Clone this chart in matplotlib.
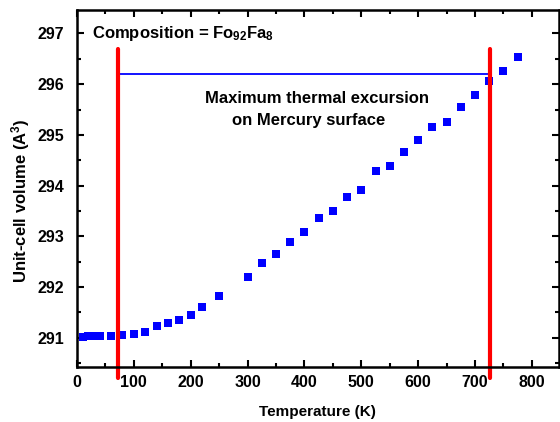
import numpy as np
import matplotlib
matplotlib.use('Agg')
import matplotlib.pyplot as plt
from matplotlib.ticker import MultipleLocator

plt.rcParams['font.family'] = ['Liberation Sans', 'DejaVu Sans']
plt.rcParams['font.weight'] = 'bold'
plt.rcParams['mathtext.fontset'] = 'custom'
plt.rcParams['mathtext.rm'] = 'Liberation Sans:bold'
plt.rcParams['mathtext.default'] = 'rm'

# temperature (K) and unit-cell volume (A^3)
temp = [10, 20, 30, 40, 60, 80, 100, 120, 140, 160, 180, 200, 220, 250,
        300, 325, 350, 375, 400, 425, 450, 475, 500, 525, 550, 575, 600,
        625, 650, 675, 700, 725, 750, 775]
vol = [291.01, 291.03, 291.04, 291.03, 291.03, 291.05, 291.07, 291.12,
       291.23, 291.30, 291.36, 291.45, 291.61, 291.82, 292.19, 292.48,
       292.65, 292.89, 293.08, 293.36, 293.50, 293.78, 293.92, 294.28,
       294.39, 294.66, 294.89, 295.16, 295.25, 295.56, 295.79, 296.06,
       296.26, 296.53]

# surface temperature limits and max volume
t_min, t_max = 72, 727
v_top = 296.21

fig = plt.figure(figsize=(5.6, 4.22), dpi=100)
ax = fig.add_axes([0.1375, 0.131, 0.86, 0.845])

ax.plot(temp, vol, 's', color='#0000ff', markersize=5.8, markeredgewidth=0)
ax.plot([t_min, t_max], [v_top, v_top], color='#0000ff', lw=1.3)
for t in (t_min, t_max):
    ax.plot([t, t], [290.2, 296.7], color='#ff0000', lw=3, clip_on=False,
            solid_capstyle='round')

ax.set_xlim(0, 847)
ax.set_ylim(290.43, 297.46)
ax.xaxis.set_major_locator(MultipleLocator(100))
ax.xaxis.set_minor_locator(MultipleLocator(50))
ax.yaxis.set_major_locator(MultipleLocator(1))
ax.yaxis.set_minor_locator(MultipleLocator(0.5))
ax.tick_params(which='both', direction='in', top=True, right=True, width=1.5,
               labelsize=11.5)
ax.tick_params(axis='x', pad=6)
ax.tick_params(axis='y', pad=9)
ax.tick_params(which='major', length=5)
ax.tick_params(which='minor', length=3)
for s in ax.spines.values():
    s.set_linewidth(1.8)

ax.set_xlabel('Temperature (K)', fontsize=11, fontweight='bold', va='center')
ax.set_ylabel('Unit-cell volume (A$^3$)', fontsize=12, fontweight='bold', va='center')
ax.xaxis.set_label_coords(0.5, -0.126)
ax.yaxis.set_label_coords(-0.118, 0.465)

ax.text(26, 297.0, 'Composition = Fo$_{92}$Fa$_8$', fontsize=12, fontweight='bold',
        va='center', ha='left')
ax.text(422, 295.72, 'Maximum thermal excursion', fontsize=12, fontweight='bold',
        va='center', ha='center')
ax.text(408, 295.29, 'on Mercury surface', fontsize=12, fontweight='bold',
        va='center', ha='center')

plt.savefig('out.png', dpi=100)
